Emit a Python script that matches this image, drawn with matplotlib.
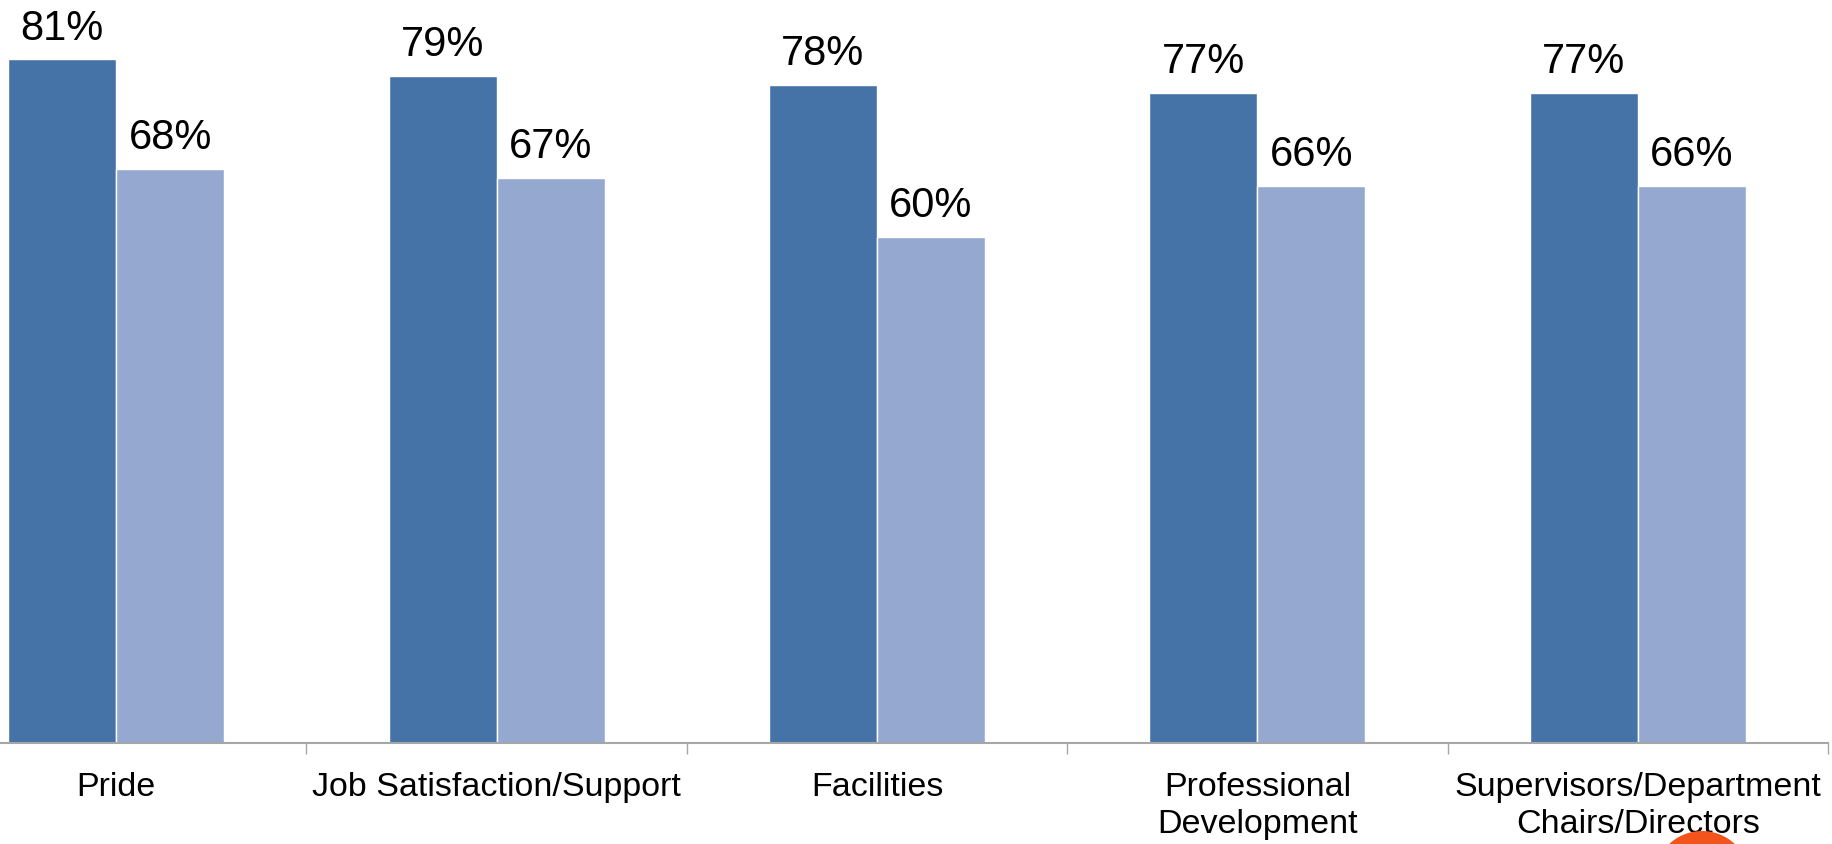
import matplotlib
matplotlib.use("Agg")
import matplotlib.pyplot as plt
from matplotlib.patches import Ellipse
import numpy as np

categories = ["Pride", "Job Satisfaction/Support", "Facilities",
              "Professional\nDevelopment", "Supervisors/Department\nChairs/Directors"]
series_a = [81, 79, 78, 77, 77]
series_b = [68, 67, 60, 66, 66]

plt.rcParams['font.family'] = ['Liberation Sans', 'DejaVu Sans']

W, H = 1833, 845
fig = plt.figure(figsize=(W / 100, H / 100), dpi=100)
# axes extends past the left edge (chart is cropped in the reference)
left_px, right_px = -74, 1828
bottom_px = 744
ax = fig.add_axes([left_px / W, (H - bottom_px) / H, (right_px - left_px) / W, bottom_px / H])

x = np.arange(len(categories))
bw = 0.284
dark = "#4673A7"
light = "#95A9D0"
b1 = ax.bar(x - bw / 2, series_a, bw, color=dark, edgecolor="white", linewidth=1)
b2 = ax.bar(x + bw / 2, series_b, bw, color=light, edgecolor="white", linewidth=1)

for bars, vals in ((b1, series_a), (b2, series_b)):
    for r, v in zip(bars, vals):
        ax.annotate(f"{v}%", (r.get_x() + r.get_width() / 2, r.get_height()),
                    xytext=(0, 15), textcoords="offset points",
                    ha="center", va="baseline", fontsize=30, color="black")

ax.set_xlim(-0.5, len(categories) - 0.5)
ax.set_ylim(0, bottom_px / 8.44)

for s in ("top", "right", "left"):
    ax.spines[s].set_visible(False)
ax.spines["bottom"].set_color("#A6A6A6")
ax.spines["bottom"].set_linewidth(1.5)

ax.set_yticks([])
ax.set_xticks(x)
ax.set_xticklabels(categories, fontsize=24.5, linespacing=1.27)
ax.tick_params(axis="x", which="major", length=0, pad=20)
ax.set_xticks(np.arange(len(categories) + 1) - 0.5, minor=True)
ax.tick_params(axis="x", which="minor", length=8, width=1, color="#A6A6A6", direction="out")

# orange decoration in the lower right corner
r_px = 48
fig.patches.append(Ellipse((1702 / W, (H - 880) / H), 2 * r_px / W, 2 * r_px / H,
                           transform=fig.transFigure,
                           facecolor="#F2541B", edgecolor="none", zorder=0))

fig.savefig("out.png", dpi=100)
